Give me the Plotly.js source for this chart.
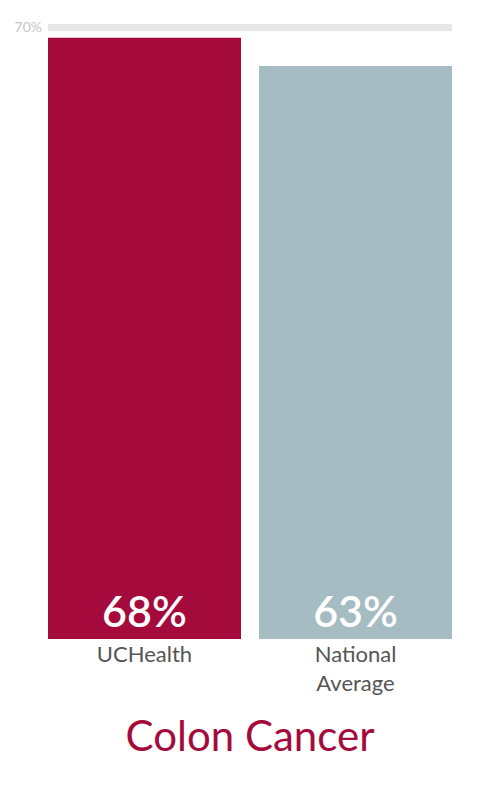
<!DOCTYPE html>
<html>
<head>
<meta charset="utf-8">
<script src="https://cdn.plot.ly/plotly-3.0.1.min.js"></script>
<style>
  html, body { margin: 0; padding: 0; background: #ffffff; }
  #chart { width: 500px; height: 800px; }
</style>
</head>
<body>
<div id="chart"></div>
<script>
// ---- data ----
const categories = ['UCHealth', 'National<br>Average'];
const values = [68, 63];
const barColors = ['#A50A3C', '#A6BCC3'];
const tickValues = [70];
const tickLabels = ['70%'];
const chartTitle = 'Colon Cancer';

const trace = {
  type: 'bar',
  x: categories,
  y: values,
  marker: { color: barColors, line: { width: 0 } },
  texttemplate: '%{y}%',
  textposition: 'inside',
  insidetextanchor: 'start',
  textangle: 0,
  textfont: { family: 'Lato, sans-serif', size: 43, color: '#ffffff', weight: 600 },
  hoverinfo: 'skip'
};

const layout = {
  width: 500,
  height: 800,
  margin: { l: 48, r: 48, t: 10, b: 161 },
  paper_bgcolor: '#ffffff',
  plot_bgcolor: '#ffffff',
  showlegend: false,
  bargap: 0.0853,
  title: {
    text: chartTitle,
    font: { family: 'Lato, sans-serif', size: 42, color: '#A50A3C' },
    x: 0.5,
    xanchor: 'center',
    xref: 'container',
    yref: 'container',
    y: 0.08,
    yanchor: 'middle'
  },
  xaxis: {
    type: 'category',
    range: [-0.4573, 1.4573],
    showgrid: false,
    zeroline: false,
    showline: false,
    ticks: '',
    tickfont: { family: 'Lato, sans-serif', size: 22, color: '#555555' },
    fixedrange: true
  },
  yaxis: {
    type: 'log',
    range: [1.1252, 1.8652],
    tickvals: tickValues,
    ticktext: tickLabels,
    showgrid: true,
    gridcolor: '#E6E6E6',
    gridwidth: 7,
    zeroline: false,
    showline: false,
    ticks: '',
    ticklabelstandoff: 5,
    tickfont: { family: 'Lato, sans-serif', size: 14, color: '#C4C4C4' },
    fixedrange: true
  }
};

Plotly.newPlot('chart', [trace], layout, { staticPlot: true, displayModeBar: false });
</script>
</body>
</html>
